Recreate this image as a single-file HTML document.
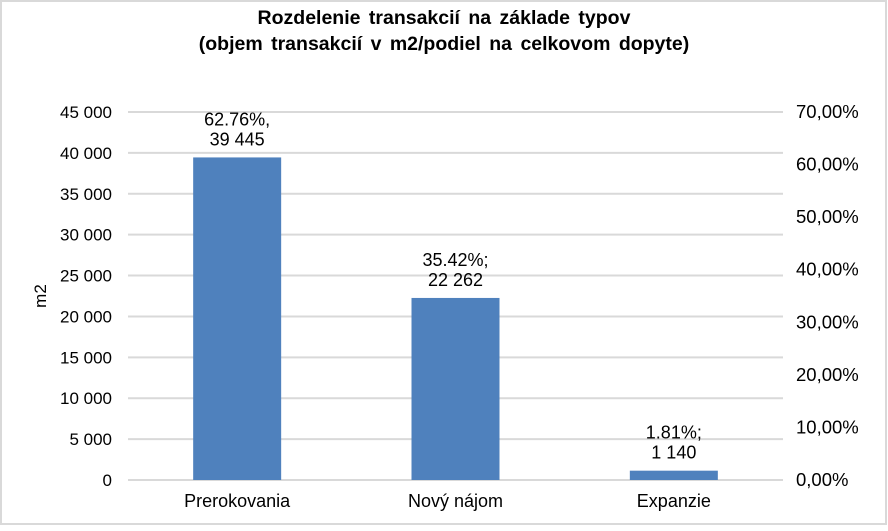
<!DOCTYPE html>
<html><head><meta charset="utf-8"><style>
body{margin:0;background:#fff}
svg text{font-family:"Liberation Sans",Arial,sans-serif;fill:#000}
</style></head><body>
<svg id="chart" width="888" height="526">
<rect x="1" y="1" width="885" height="523" fill="#fff" stroke="#d9d9d9" stroke-width="2"/>
<text x="444" y="24" text-anchor="middle" font-size="19.5" font-weight="bold" word-spacing="3">Rozdelenie transakcií na základe typov</text>
<text x="444" y="50" text-anchor="middle" font-size="19.5" font-weight="bold" word-spacing="3">(objem transakcií v m2/podiel na celkovom dopyte)</text>
<text transform="translate(46,296) rotate(-90)" text-anchor="middle" font-size="17">m2</text>
<g id="grid"></g><g id="bars"></g><g id="labels"></g>
</svg>
<script>
const categories=["Prerokovania","Nový nájom","Expanzie"];
const values=[39445,22262,1140];
const shares=["62.76%","35.42%","1.81%"];
const leftTicks=[0,5000,10000,15000,20000,25000,30000,35000,40000,45000];
const rightTicks=["0,00%","10,00%","20,00%","30,00%","40,00%","50,00%","60,00%","70,00%"];
const NS="http://www.w3.org/2000/svg";
const x0=128,x1=783,yBase=480,yTop=112,maxV=45000;
const y=v=>yBase-(v/maxV)*(yBase-yTop);
const band=(x1-x0)/categories.length;
const xc=i=>x0+band*(i+0.5);
function mk(tag,attrs,parent,text){const e=document.createElementNS(NS,tag);for(const k in attrs)e.setAttribute(k,attrs[k]);if(text!==undefined)e.textContent=text;parent.appendChild(e);return e;}
const fmt=v=>String(v).replace(/\B(?=(\d{3})+(?!\d))/g," ");
const grid=document.getElementById('grid'),bars=document.getElementById('bars'),labels=document.getElementById('labels');
leftTicks.forEach(t=>{
 const l=mk('line',{x1:x0,x2:x1,y1:y(t),y2:y(t),stroke:'#d9d9d9','stroke-width':2},grid);
 
 
 const tx=mk('text',{x:112,y:y(t)+6,'text-anchor':'end','font-size':17},grid,fmt(t));
 
 
});
rightTicks.forEach((t,i)=>{
 const yy=yBase-i*(yBase-yTop)/(rightTicks.length-1);
 const tx=mk('text',{x:796,y:yy+6,'font-size':18.5},grid,t);
 
 
});
const bw=88;
categories.forEach((c,i)=>{
 const r=mk('rect',{x:xc(i)-bw/2,y:y(values[i]),width:bw,height:yBase-y(values[i]),fill:'#4f81bd'},bars);
 
 
 const cl=mk('text',{x:xc(i),y:507,'text-anchor':'middle','font-size':18},labels,c);
 
 
 const sep=i===0?",":";";
 const a=mk('text',{x:xc(i),y:y(values[i])-32,'text-anchor':'middle','font-size':18},labels,shares[i]+sep);
 
 
 const b=mk('text',{x:xc(i),y:y(values[i])-12,'text-anchor':'middle','font-size':18},labels,fmt(values[i]));
 
 
});
</script>
</body></html>
